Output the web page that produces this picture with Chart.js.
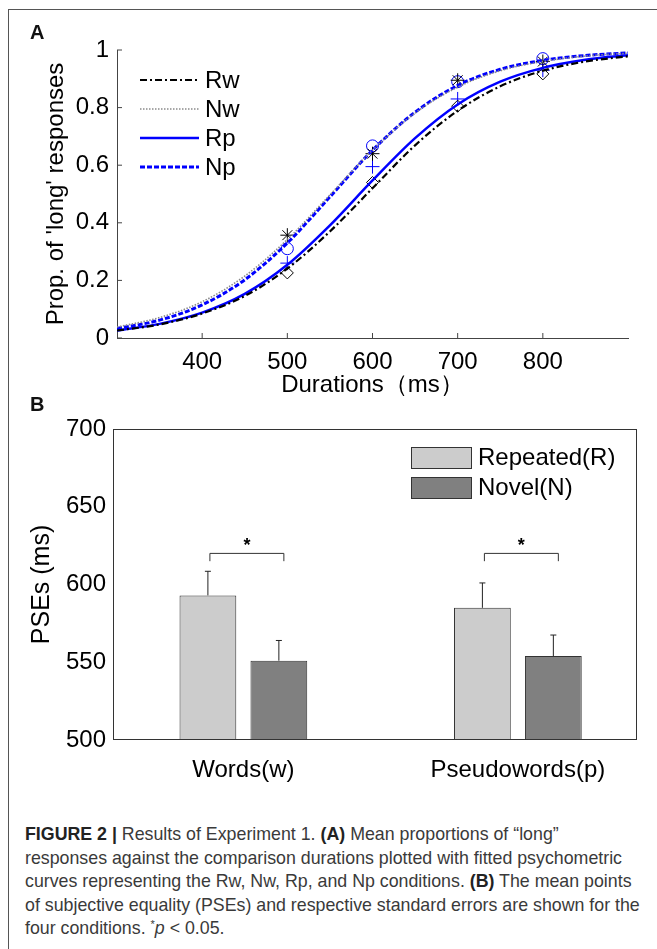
<!DOCTYPE html>
<html>
<head>
<meta charset="utf-8">
<script src="https://cdn.jsdelivr.net/npm/chart.js@4.4.0/dist/chart.umd.min.js"></script>
<style>
  html, body { margin: 0; padding: 0; background: #fff; }
  body { width: 657px; height: 949px; position: relative; overflow: hidden; font-family: "Liberation Sans", Arial, sans-serif; }
  #frame { position: absolute; left: 8px; top: 9px; width: 660px; height: 950px; border-top: 1.5px solid #555; border-left: 1.5px solid #555; }
  canvas { position: absolute; left: 0; }
  #cA { top: 0; }
  #cB { top: 390px; }
  .panel { position: absolute; font-weight: bold; font-size: 20px; color: #111; z-index: 2; }
  #caption { position: absolute; left: 25px; top: 823px; font-size: 17.8px; line-height: 23.5px; color: #3a3a3a; white-space: nowrap; z-index: 2; }
  #caption b { color: #222; }
  #caption sup { font-size: 11px; line-height: 0; vertical-align: 6px; }
</style>
</head>
<body>
<div id="frame"></div>
<canvas id="cA" width="657" height="400"></canvas>
<canvas id="cB" width="657" height="400"></canvas>
<div class="panel" style="left:30px;top:21px;">A</div>
<div class="panel" style="left:30px;top:393px;">B</div>
<div id="caption">
  <b>FIGURE 2 |</b> Results of Experiment 1. <b>(A)</b> Mean proportions of “long”<br>
  responses against the comparison durations plotted with fitted psychometric<br>
  curves representing the Rw, Nw, Rp, and Np conditions. <b>(B)</b> The mean points<br>
  of subjective equality (PSEs) and respective standard errors are shown for the<br>
  four conditions. <sup>*</sup><i>p</i> &lt; 0.05.
</div>
<script>
// ---- panel A data: fitted curves ----
const durations = [300, 350, 400, 450, 500, 550, 600, 650, 700, 750, 800, 850, 900];
const fitRw = [0.026, 0.047, 0.085, 0.146, 0.241, 0.370, 0.520, 0.669, 0.789, 0.874, 0.928, 0.960, 0.978];
const fitNw = [0.038, 0.071, 0.126, 0.215, 0.342, 0.497, 0.652, 0.781, 0.871, 0.928, 0.960, 0.979, 0.989];
const fitRp = [0.026, 0.049, 0.088, 0.153, 0.254, 0.391, 0.547, 0.694, 0.811, 0.890, 0.938, 0.966, 0.982];
const fitNp = [0.033, 0.062, 0.115, 0.202, 0.330, 0.490, 0.652, 0.784, 0.877, 0.933, 0.964, 0.981, 0.990];

// observed means
const obsX = [500, 600, 700, 800];
const obsRw = [0.226, 0.54, 0.805, 0.917];
const obsNw = [0.357, 0.64, 0.895, 0.96];
const obsRp = [0.26, 0.595, 0.83, 0.93];
const obsNp = [0.31, 0.667, 0.89, 0.97];

const ticksAX = [400, 500, 600, 700, 800];
const ticksAY = [0, 0.2, 0.4, 0.6, 0.8, 1];

// ---- panel B data ----
const groups = ['Words(w)', 'Pseudowords(p)'];
const groupPos = [1, 2];
const pseRepeated = [593, 585];
const pseNovel = [551, 554];
const seRepeated = [15.5, 16];
const seNovel = [13, 13.5];
const sigLevel = [620, 620];
const ticksBY = [500, 550, 600, 650, 700];

Chart.defaults.font.family = '"Liberation Sans", Arial, sans-serif';
Chart.defaults.color = '#000';

const pts = (xs, ys) => xs.map((x, i) => ({ x: x, y: ys[i] }));

const innerTicks = {
  id: 'innerTicks',
  afterDraw(chart) {
    const { ctx, scales: { x, y }, chartArea: a } = chart;
    ctx.save();
    ctx.strokeStyle = '#444';
    ctx.lineWidth = 1;
    ctx.beginPath();
    x.ticks.forEach(t => {
      const px = x.getPixelForValue(t.value);
      ctx.moveTo(px, a.bottom);
      ctx.lineTo(px, a.bottom - 5);
    });
    y.ticks.forEach(t => {
      const py = y.getPixelForValue(t.value);
      ctx.moveTo(a.left, py);
      ctx.lineTo(a.left + 5, py);
    });
    ctx.stroke();
    ctx.restore();
  }
};

const legendA = {
  id: 'legendA',
  afterDraw(chart) {
    const { ctx, chartArea: a } = chart;
    chart.data.datasets.slice(0, 4).forEach((d, i) => {
      const y = a.top + 30 + i * 29;
      ctx.save();
      ctx.strokeStyle = d.borderColor;
      ctx.lineWidth = d.borderWidth;
      ctx.setLineDash(d.borderDash || []);
      ctx.beginPath();
      ctx.moveTo(a.left + 23, y);
      ctx.lineTo(a.left + 82, y);
      ctx.stroke();
      ctx.setLineDash([]);
      ctx.fillStyle = '#000';
      ctx.font = '24px "Liberation Sans", Arial';
      ctx.textBaseline = 'middle';
      ctx.fillText(d.label, a.left + 88, y + 1);
      ctx.restore();
    });
  }
};

new Chart(document.getElementById('cA'), {
  type: 'line',
  data: {
    datasets: [
      { label: 'Rw', data: pts(durations, fitRw), borderColor: '#000', borderWidth: 2.2, borderDash: [7, 3, 2, 3], pointRadius: 0, cubicInterpolationMode: 'monotone' },
      { label: 'Nw', data: pts(durations, fitNw), borderColor: '#8a8a8a', borderWidth: 1.6, borderDash: [1.5, 1.5], pointRadius: 0, cubicInterpolationMode: 'monotone' },
      { label: 'Rp', data: pts(durations, fitRp), borderColor: '#0000ff', borderWidth: 2.5, pointRadius: 0, cubicInterpolationMode: 'monotone' },
      { label: 'Np', data: pts(durations, fitNp), borderColor: '#0000ff', borderWidth: 3, borderDash: [5, 2], pointRadius: 0, cubicInterpolationMode: 'monotone' },
      { label: 'Rw obs', data: pts(obsX, obsRw), showLine: false, pointStyle: 'rectRot', pointRadius: 6, borderColor: '#000', backgroundColor: 'transparent', pointBorderWidth: 1 },
      { label: 'Nw obs', data: pts(obsX, obsNw), showLine: false, pointStyle: 'star', pointRadius: 7, borderColor: '#000', backgroundColor: 'transparent', pointBorderWidth: 1 },
      { label: 'Rp obs', data: pts(obsX, obsRp), showLine: false, pointStyle: 'cross', pointRadius: 7, borderColor: '#0000ff', backgroundColor: 'transparent', pointBorderWidth: 1 },
      { label: 'Np obs', data: pts(obsX, obsNp), showLine: false, pointStyle: 'circle', pointRadius: 6, borderColor: '#0000ff', backgroundColor: 'transparent', pointBorderWidth: 1 }
    ]
  },
  options: {
    responsive: false,
    animation: false,
    layout: { padding: { top: 50, right: 29, left: 0, bottom: 0 } },
    plugins: { legend: { display: false }, tooltip: { enabled: false } },
    scales: {
      x: {
        type: 'linear', min: 300, max: 900,
        afterBuildTicks: s => { s.ticks = ticksAX.map(v => ({ value: v })); },
        afterFit: s => { s.height = 62; },
        grid: { display: false, drawTicks: false },
        border: { color: '#444', width: 1 },
        ticks: { padding: 10, font: { size: 24 } },
        title: { display: true, text: 'Durations（ms）', font: { size: 24 }, padding: { top: 0, bottom: 0 } }
      },
      y: {
        min: 0, max: 1,
        afterBuildTicks: s => { s.ticks = ticksAY.map(v => ({ value: v })); },
        afterFit: s => { s.width = 117; },
        grid: { display: false, drawTicks: false },
        border: { color: '#444', width: 1 },
        ticks: { padding: 8, font: { size: 24 }, callback: v => (v === 0 || v === 1) ? String(v) : v.toFixed(1) },
        title: { display: true, text: "Prop. of 'long' responses", font: { size: 24 }, padding: { top: 42, bottom: 0 } }
      }
    }
  },
  plugins: [innerTicks, legendA]
});

const boxB = {
  id: 'boxB',
  afterDraw(chart) {
    const { ctx, chartArea: a } = chart;
    ctx.save();
    ctx.strokeStyle = '#333';
    ctx.lineWidth = 1;
    ctx.strokeRect(a.left + 0.5, a.top + 0.5, a.width - 1, a.height - 1);
    ctx.restore();
  }
};

const errorBars = {
  id: 'errorBars',
  afterDatasetsDraw(chart) {
    const { ctx, scales: { x, y } } = chart;
    ctx.save();
    ctx.strokeStyle = '#222';
    ctx.lineWidth = 1;
    chart.data.datasets.forEach((d, di) => {
      chart.getDatasetMeta(di).data.forEach((el, i) => {
        const top = y.getPixelForValue(d.data[i].y + d.err[i]);
        ctx.beginPath();
        ctx.moveTo(el.x, el.y);
        ctx.lineTo(el.x, top);
        ctx.moveTo(el.x - 3, top);
        ctx.lineTo(el.x + 3, top);
        ctx.stroke();
      });
    });
    // significance brackets
    const m0 = chart.getDatasetMeta(0).data, m1 = chart.getDatasetMeta(1).data;
    ctx.strokeStyle = '#333';
    ctx.fillStyle = '#000';
    ctx.font = 'bold 18px "Liberation Sans", Arial';
    ctx.textAlign = 'center';
    ctx.textBaseline = 'middle';
    sigLevel.forEach((lv, i) => {
      const yb = y.getPixelForValue(lv);
      const yd = y.getPixelForValue(lv - 5);
      const x0 = m0[i].x + 2, x1 = m1[i].x + 5;
      ctx.beginPath();
      ctx.moveTo(x0, yd);
      ctx.lineTo(x0, yb);
      ctx.lineTo(x1, yb);
      ctx.lineTo(x1, yd);
      ctx.stroke();
      ctx.fillText('*', (x0 + x1) / 2, yb - 7);
    });
    ctx.restore();
  }
};

const legendB = {
  id: 'legendB',
  afterDraw(chart) {
    const { ctx, chartArea: a } = chart;
    chart.data.datasets.forEach((d, i) => {
      const px = a.right - 226, py = a.top + 18 + i * 30;
      ctx.save();
      ctx.fillStyle = d.backgroundColor;
      ctx.fillRect(px, py, 60, 21);
      ctx.strokeStyle = '#333';
      ctx.lineWidth = 1;
      ctx.strokeRect(px + 0.5, py + 0.5, 60, 21);
      ctx.fillStyle = '#000';
      ctx.font = '24px "Liberation Sans", Arial';
      ctx.textBaseline = 'middle';
      ctx.fillText(d.label, px + 67, py + 11);
      ctx.restore();
    });
  }
};

new Chart(document.getElementById('cB'), {
  type: 'bar',
  data: {
    datasets: [
      { label: 'Repeated(R)', data: pts(groupPos, pseRepeated), err: seRepeated, backgroundColor: '#cccccc', borderColor: '#333', borderWidth: 1, categoryPercentage: 0.517, barPercentage: 0.8 },
      { label: 'Novel(N)', data: pts(groupPos, pseNovel), err: seNovel, backgroundColor: '#808080', borderColor: '#333', borderWidth: 1, categoryPercentage: 0.517, barPercentage: 0.8 }
    ]
  },
  options: {
    responsive: false,
    animation: false,
    layout: { padding: { top: 39, right: 20, left: 0, bottom: 0 } },
    plugins: { legend: { display: false }, tooltip: { enabled: false } },
    scales: {
      x: {
        type: 'linear', min: 0.525, max: 2.434, offset: false,
        afterBuildTicks: s => { s.ticks = groupPos.map(v => ({ value: v })); },
        afterFit: s => { s.height = 50; },
        grid: { display: false, drawTicks: false, offset: false },
        border: { display: false },
        ticks: { padding: 16, font: { size: 24 }, callback: v => groups[groupPos.indexOf(v)] }
      },
      y: {
        min: 500, max: 700,
        afterBuildTicks: s => { s.ticks = ticksBY.map(v => ({ value: v })); },
        afterFit: s => { s.width = 113; },
        grid: { display: false, drawTicks: false },
        border: { display: false },
        ticks: { padding: 7, font: { size: 24 } },
        title: { display: true, text: 'PSEs (ms)', font: { size: 25 }, padding: { top: 27, bottom: 0 } }
      }
    }
  },
  plugins: [boxB, errorBars, legendB]
});
</script>
</body>
</html>
